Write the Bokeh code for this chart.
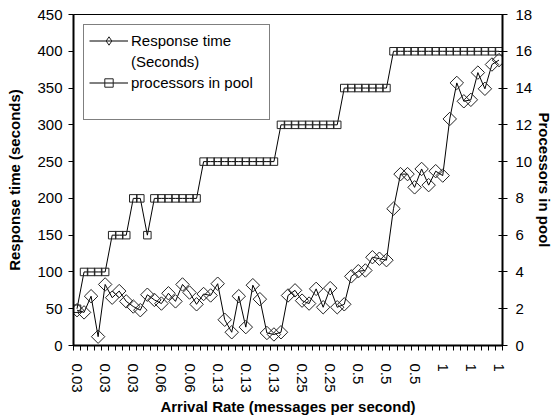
import math
from bokeh.plotting import figure
from bokeh.models import (Range1d, LinearAxis, FixedTicker, Legend, LegendItem,
                          ColumnDataSource)
from bokeh.embed import file_html
from bokeh.resources import INLINE

# ---- data -------------------------------------------------------------
arrival_rate = [
    "0.03", "0.03", "0.03", "0.03", "0.03", "0.03", "0.03", "0.03", "0.03", "0.03", "0.03",
    "0.06", "0.06", "0.06", "0.06", "0.06", "0.06", "0.06", "0.06",
    "0.13", "0.13", "0.13", "0.13", "0.13", "0.13", "0.13", "0.13", "0.13", "0.13", "0.13", "0.13",
    "0.25", "0.25", "0.25", "0.25", "0.25", "0.25", "0.25", "0.25",
    "0.5", "0.5", "0.5", "0.5", "0.5", "0.5", "0.5", "0.5", "0.5", "0.5", "0.5", "0.5",
    "1", "1", "1", "1", "1", "1", "1", "1", "1", "1",
]
response_time = [
    48, 45, 67, 12, 83, 65, 74, 60, 53, 48,
    69, 62, 57, 71, 60, 83, 72, 56, 70, 68,
    84, 35, 18, 67, 25, 82, 63, 17, 15, 18,
    68, 75, 61, 57, 77, 52, 78, 52, 56, 94,
    101, 102, 120, 118, 116, 186, 233, 233, 215, 240,
    218, 237, 231, 308, 357, 332, 334, 371, 349, 382,
    388,
]
processors = [
    2, 4, 4, 4, 4, 6, 6, 6, 8, 8,
    6, 8, 8, 8, 8, 8, 8, 8, 10, 10,
    10, 10, 10, 10, 10, 10, 10, 10, 10, 12,
    12, 12, 12, 12, 12, 12, 12, 12, 14, 14,
    14, 14, 14, 14, 14, 16, 16, 16, 16, 16,
    16, 16, 16, 16, 16, 16, 16, 16, 16, 16,
    16,
]
label_every = 4
left_ticks = [0, 50, 100, 150, 200, 250, 300, 350, 400, 450]
right_ticks = [0, 2, 4, 6, 8, 10, 12, 14, 16, 18]

# ---- figure -----------------------------------------------------------
n = len(arrival_rate)
idx = list(range(n))
src = ColumnDataSource(dict(x=idx, rt=response_time, pr=processors))

FONT = "Liberation Sans"

p = figure(width=557, height=417, output_backend="svg", toolbar_location=None,
           x_range=Range1d(-0.5, n - 0.5), y_range=Range1d(0, 450),
           min_border_left=73, min_border_right=55, min_border_top=14,
           min_border_bottom=72)
p.title.visible = False
p.extra_y_ranges = {"proc": Range1d(0, 18), "legend_only": Range1d(-1000, -500)}
p.xgrid.visible = False
p.ygrid.visible = False
p.outline_line_color = "black"
p.outline_line_width = 1
p.background_fill_color = "white"
p.border_fill_color = "white"

# x axis
xa = p.xaxis[0]
major = idx[::label_every]
xa.ticker = FixedTicker(ticks=major, minor_ticks=[i - 0.5 for i in range(n + 1)])
xa.major_label_overrides = {i: arrival_rate[i] for i in major}
xa.major_label_orientation = "vertical"
xa.major_tick_out = 0
xa.major_tick_in = 0
xa.minor_tick_out = 5
xa.minor_tick_in = 0
xa.minor_tick_line_color = "black"
xa.major_label_standoff = 13
xa.axis_label = "Arrival Rate (messages per second)"
xa.axis_label_standoff = 2

# left axis
ya = p.yaxis[0]
ya.ticker = FixedTicker(ticks=left_ticks)
ya.major_tick_out = 5
ya.major_tick_in = 0
ya.minor_tick_out = 0
ya.minor_tick_in = 0
ya.major_label_standoff = 6
ya.axis_label = "Response time (seconds)"
ya.axis_label_standoff = 11

# right axis
ra = LinearAxis(y_range_name="proc", ticker=FixedTicker(ticks=right_ticks),
                axis_label="Processors in pool")
ra.major_tick_out = 5
ra.major_tick_in = 4
ra.minor_tick_out = 0
ra.minor_tick_in = 0
ra.major_label_standoff = 8
ra.axis_label_standoff = 1
p.add_layout(ra, "right")

for ax in (xa, ya, ra):
    ax.axis_line_width = 2
    ax.axis_line_color = "black"
    ax.major_tick_line_color = "black"
    ax.major_tick_line_width = 1
    ax.minor_tick_line_width = 1
    ax.major_label_text_font = FONT
    ax.major_label_text_font_size = "15px"
    ax.major_label_text_color = "black"
    ax.axis_label_text_font = FONT
    ax.axis_label_text_font_size = "15px"
    ax.axis_label_text_font_style = "bold"
    ax.axis_label_text_color = "black"

# ---- series -------------------------------------------------------------
l2 = p.line("x", "pr", source=src, y_range_name="proc", line_color="black", line_width=1)
m2 = p.scatter("x", "pr", source=src, y_range_name="proc", marker="square", size=7.5,
               fill_color=None, line_color="#222222", line_width=1)
l1 = p.line("x", "rt", source=src, line_color="black", line_width=1)
m1 = p.scatter("x", "rt", source=src, marker="square", angle=math.pi / 4, size=9.5,
               fill_color=None, line_color="#222222", line_width=1)
# diamond swatch for the legend (its points sit outside the visible range)
m1_key = p.scatter("x", "rt", source=src, y_range_name="legend_only", marker="diamond",
                   size=13, fill_color=None, line_color="#222222", line_width=1)
blank = p.line("x", "rt", source=src, line_alpha=0)

legend = Legend(items=[
    LegendItem(label="Response time", renderers=[l1, m1_key]),
    LegendItem(label="(Seconds)", renderers=[blank]),
    LegendItem(label="processors in pool", renderers=[l2, m2]),
    LegendItem(label=" ", renderers=[blank]),
], location="top_left")
legend.margin = 10
legend.padding = 5
legend.spacing = 0
legend.glyph_width = 39
legend.glyph_height = 21
legend.label_height = 21
legend.label_width = 133
legend.label_standoff = 3
legend.label_text_font = FONT
legend.label_text_font_size = "15px"
legend.label_text_color = "black"
legend.border_line_color = "black"
legend.border_line_width = 1
legend.background_fill_color = "white"
legend.background_fill_alpha = 1
p.add_layout(legend)

open("out.html", "w").write(file_html(p, INLINE))
